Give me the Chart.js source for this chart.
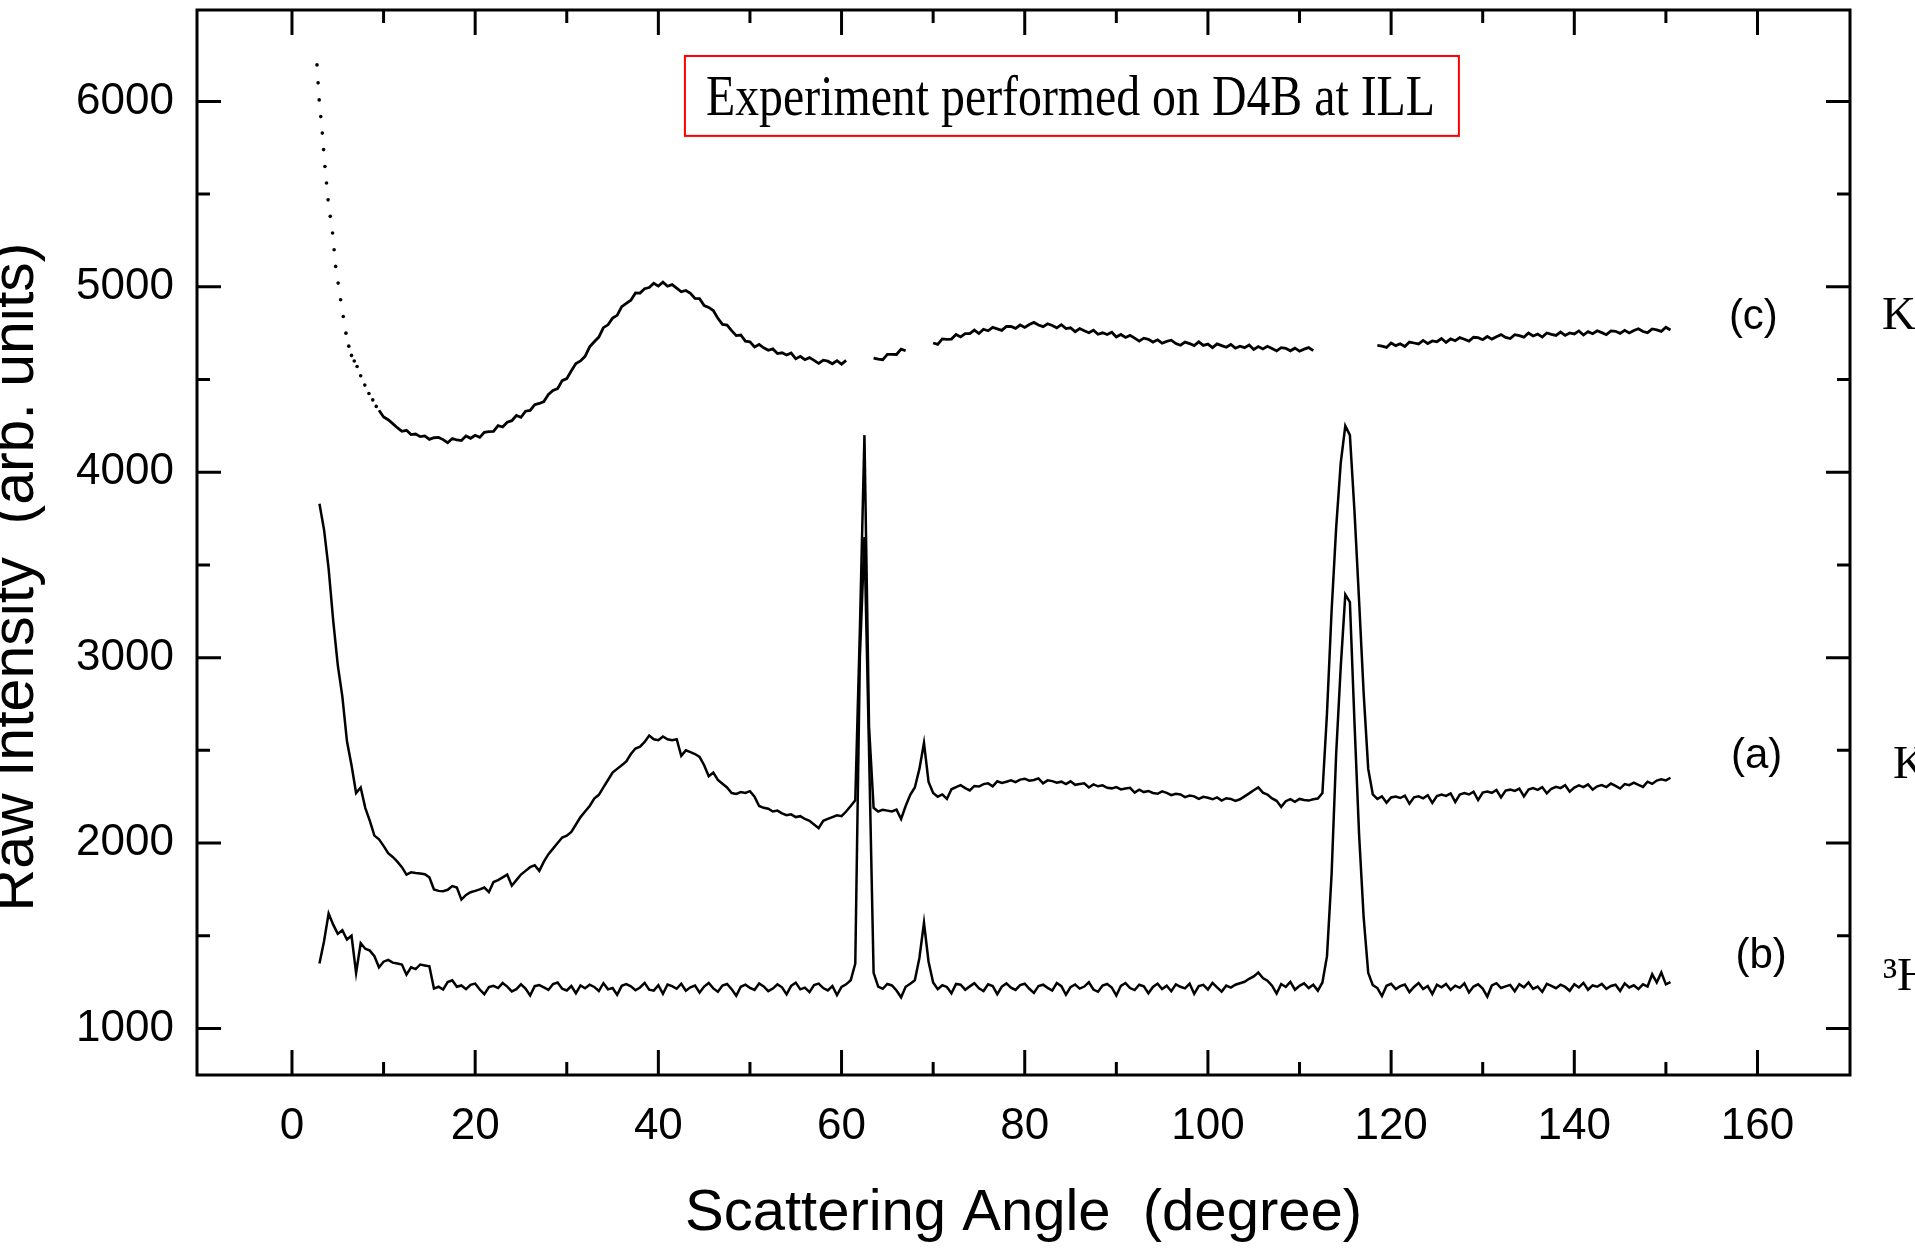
<!DOCTYPE html>
<html>
<head>
<meta charset="utf-8">
<script src="https://cdn.jsdelivr.net/npm/chart.js@4.4.1/dist/chart.umd.min.js"></script>
<style>
  html, body { margin: 0; padding: 0; background: #fff; overflow: hidden; }
  #plot { display: block; }
</style>
</head>
<body>
<canvas id="plot" width="1915" height="1249"></canvas>
<script>
// D4B detector grid: one value every 0.5 degree from the start angle
const ANGLE_STEP = 0.5;
const A_START = 3.0;
const B_START = 3.0;
const C_START = 9.5;

// (a) raw intensity, 3.0 .. 150.5 deg
const intensityA = [
  3830, 3690, 3480, 3200, 2960, 2790, 2550, 2420, 2270, 2300,
  2190, 2120, 2040, 2020, 1985, 1945, 1925, 1900, 1870, 1830,
  1842, 1838, 1836, 1832, 1815, 1750, 1742, 1740, 1748, 1768,
  1760, 1695, 1720, 1735, 1742, 1750, 1760, 1735, 1790, 1800,
  1815, 1830, 1770, 1800, 1830, 1850, 1870, 1880, 1850, 1900,
  1940, 1970, 2000, 2030, 2040, 2060, 2100, 2140, 2170, 2200,
  2240, 2260, 2300, 2340, 2380, 2400, 2420, 2440, 2480, 2510,
  2520, 2545, 2580, 2560, 2555, 2575, 2560, 2555, 2560, 2470,
  2500, 2490, 2480, 2465, 2420, 2360, 2380, 2340, 2320, 2300,
  2270, 2265, 2275, 2270, 2280, 2250, 2200, 2190, 2185, 2170,
  2175, 2160, 2150, 2155, 2140, 2145, 2130, 2120, 2100, 2080,
  2120, 2130, 2140, 2150, 2145, 2170, 2200, 2230, 3150, 4200,
  2630, 2190, 2170, 2180, 2175, 2170, 2180, 2130, 2200, 2260,
  2300, 2400, 2540, 2330, 2270, 2250, 2262, 2238, 2290, 2302,
  2312, 2296, 2284, 2308, 2305, 2318, 2322, 2306, 2333, 2324,
  2331, 2338, 2329, 2342, 2347, 2336, 2340, 2349, 2322, 2338,
  2334, 2326, 2331, 2318, 2333, 2314, 2319, 2322, 2300, 2316,
  2306, 2311, 2298, 2295, 2302, 2289, 2294, 2298, 2272, 2288,
  2275, 2281, 2270, 2266, 2279, 2271, 2258, 2266, 2262, 2248,
  2256, 2252, 2238, 2249, 2244, 2236, 2246, 2229, 2242, 2238,
  2227, 2236, 2252, 2268, 2285, 2300, 2272, 2262, 2241, 2228,
  2195, 2226, 2237, 2222, 2238, 2232, 2229, 2236, 2240, 2270,
  2700, 3250, 3700, 4050, 4250, 4200, 3790, 3310, 2810, 2400,
  2262, 2238, 2252, 2218, 2246, 2251, 2243, 2256, 2212, 2247,
  2252, 2241, 2258, 2216, 2253, 2262, 2254, 2268, 2222, 2262,
  2270, 2262, 2277, 2232, 2272, 2278, 2271, 2286, 2246, 2283,
  2288, 2281, 2293, 2252, 2289, 2296, 2287, 2302, 2268, 2293,
  2303, 2296, 2312, 2277, 2299, 2311, 2302, 2316, 2288, 2306,
  2313, 2302, 2321, 2308, 2294, 2318, 2312, 2326, 2314, 2303,
  2331, 2319, 2337, 2344, 2338, 2352
];

// (b) raw intensity, 3.0 .. 150.5 deg
const intensityB = [
  1350, 1470, 1620, 1560, 1510, 1530, 1480, 1500, 1300, 1460,
  1430, 1420, 1390, 1330, 1360, 1370, 1355, 1350, 1345, 1290,
  1330, 1320, 1345, 1340, 1335, 1215, 1225, 1210, 1250, 1260,
  1225, 1232, 1212, 1235, 1242, 1210, 1185, 1223, 1230, 1218,
  1245, 1226, 1200, 1212, 1238, 1215, 1178, 1228, 1234, 1222,
  1208, 1240, 1248, 1214, 1205, 1229, 1190, 1232, 1217, 1236,
  1224, 1202, 1244, 1211, 1218, 1182, 1230, 1239, 1227, 1206,
  1221, 1246, 1209, 1204, 1233, 1187, 1237, 1228, 1214, 1241,
  1204, 1222, 1231, 1193, 1226, 1245, 1216, 1198, 1232, 1240,
  1212, 1176, 1225, 1236, 1219, 1208, 1243, 1227, 1201, 1215,
  1238, 1222, 1184, 1230, 1247, 1211, 1220, 1196, 1234, 1242,
  1218, 1205, 1229, 1180, 1224, 1238, 1260, 1350, 3000, 3650,
  2500, 1300, 1226, 1214, 1240, 1232, 1205, 1168, 1225, 1241,
  1260, 1380, 1570, 1360, 1248, 1212, 1233, 1224, 1190, 1240,
  1236, 1209, 1227, 1244, 1217, 1202, 1238, 1229, 1185, 1226,
  1243, 1220, 1208, 1234, 1241, 1214, 1192, 1229, 1236, 1219,
  1204, 1245, 1228, 1182, 1223, 1237, 1215, 1226, 1249, 1210,
  1198, 1232, 1240, 1221, 1178, 1230, 1245, 1218, 1207, 1236,
  1227, 1190, 1224, 1242, 1213, 1231, 1201, 1238, 1225, 1216,
  1242, 1187, 1229, 1235, 1210, 1246, 1222, 1199, 1231, 1220,
  1236, 1244, 1252, 1268, 1281, 1302, 1272, 1258, 1231, 1188,
  1240, 1224, 1251, 1209, 1230, 1243, 1218, 1236, 1204, 1248,
  1390, 1830, 2480, 2950, 3340, 3300, 2650, 2050, 1600, 1300,
  1234, 1218, 1175, 1230, 1241, 1212, 1228, 1237, 1196, 1224,
  1245, 1213, 1229, 1186, 1236, 1222, 1240, 1208, 1231, 1219,
  1243, 1194, 1226, 1238, 1215, 1172, 1232, 1244, 1218, 1227,
  1235, 1201, 1239, 1222, 1248, 1213, 1226, 1197, 1241, 1230,
  1217, 1236, 1224, 1203, 1238, 1221, 1246, 1209, 1232, 1225,
  1240, 1214, 1229, 1236, 1202, 1243, 1221, 1233, 1212, 1238,
  1226, 1292, 1248, 1302, 1238, 1250
];

// (c) steep low-angle part, drawn as separate dots
const cHeadAngles = [2.73, 2.85, 2.97, 3.14, 3.31, 3.45, 3.60, 3.77, 3.94, 4.18,
  4.43, 4.60, 4.77, 5.04, 5.31, 5.60, 5.89, 6.20, 6.50, 6.80,
  7.11, 7.50, 7.95, 8.40, 8.82, 9.20];
const cHeadValues = [6197, 6100, 6008, 5918, 5829, 5740, 5649, 5560, 5469, 5380,
  5290, 5200, 5110, 5020, 4930, 4840, 4750, 4680, 4630, 4600,
  4570, 4520, 4470, 4425, 4390, 4355];

// (c) raw intensity, 9.5 .. 150.5 deg (null = angles left out of the scan)
const intensityC = [
  4334, 4298, 4283, 4262, 4240, 4221, 4226, 4203, 4206, 4192,
  4196, 4177, 4186, 4188, 4176, 4159, 4182, 4174, 4171, 4196,
  4183, 4199, 4188, 4215, 4219, 4220, 4251, 4244, 4270, 4278,
  4306, 4296, 4329, 4333, 4364, 4371, 4381, 4420, 4441, 4451,
  4494, 4505, 4547, 4586, 4600, 4625, 4676, 4704, 4729, 4780,
  4795, 4831, 4846, 4893, 4911, 4928, 4967, 4966, 4990, 4996,
  5019, 5004, 5025, 5003, 5012, 4993, 4973, 4980, 4965, 4937,
  4936, 4899, 4889, 4872, 4830, 4797, 4794, 4764, 4737, 4740,
  4707, 4703, 4676, 4689, 4671, 4658, 4665, 4640, 4644, 4632,
  4643, 4612, 4625, 4607, 4618, 4603, 4587, 4604, 4599, 4585,
  4602, 4583, 4603, null, null, null, null, null, 4616, 4610,
  4607, 4636, 4636, 4635, 4664, 4655, null, null, null, null,
  null, 4697, 4690, 4719, 4717, 4718, 4743, 4730, 4748, 4748,
  4767, 4748, 4771, 4763, 4781, 4773, 4765, 4786, 4786, 4776,
  4794, 4781, 4797, 4808, 4794, 4785, 4801, 4791, 4779, 4796,
  4775, 4779, 4758, 4775, 4763, 4752, 4766, 4744, 4752, 4743,
  4755, 4729, 4743, 4727, 4738, 4723, 4707, 4723, 4717, 4702,
  4714, 4696, 4706, 4712, 4694, 4685, 4702, 4694, 4683, 4703,
  4684, 4691, 4672, 4692, 4683, 4674, 4689, 4669, 4680, 4672,
  4686, 4662, 4678, 4665, 4679, 4667, 4654, 4672, 4668, 4655,
  4669, 4653, 4664, 4672, 4656, null, null, null, null, null,
  null, null, null, null, null, null, null, null, 4684, 4680,
  4673, 4697, 4683, 4693, 4678, 4702, 4697, 4692, 4711, 4694,
  4708, 4704, 4721, 4700, 4719, 4709, 4726, 4717, 4707, 4728,
  4726, 4715, 4732, 4718, 4731, 4742, 4727, 4721, 4742, 4737,
  4729, 4751, 4735, 4745, 4729, 4751, 4744, 4738, 4756, 4738,
  4751, 4746, 4762, 4740, 4758, 4747, 4763, 4753, 4742, 4762,
  4760, 4749, 4765, 4751, 4764, 4774, 4759, 4753, 4773, 4768,
  4760, 4782, 4767
];

// axes
const X_MIN = -10.37, X_MAX = 170.1;
const Y_MIN = 749, Y_MAX = 6493;
const X_MAJOR = [0, 20, 40, 60, 80, 100, 120, 140, 160];
const X_MINOR = [10, 30, 50, 70, 90, 110, 130, 150];
const Y_MAJOR = [1000, 2000, 3000, 4000, 5000, 6000];
const Y_MINOR = [1500, 2500, 3500, 4500, 5500];

// texts
const X_TITLE = 'Scattering Angle  (degree)';
const Y_TITLE = 'Raw Intensity  (arb. units)';
const NOTE_TEXT = 'Experiment performed on D4B at ILL';
const CURVE_TAGS = ['(c)', '(a)', '(b)'];
const SAMPLE_TAGS = ['K', 'K', '\u00B3H'];

const SANS = "'Liberation Sans', Arial, Helvetica, sans-serif";
const SERIF = "'Liberation Serif', 'Times New Roman', Times, serif";

function toPoints(start, values) {
  return values.map((v, i) => ({ x: start + i * ANGLE_STEP, y: v }));
}

// frame, inward ticks and the text notes, all placed through the scales
const framePlugin = {
  id: 'framePlugin',
  afterDatasetsDraw(chart) {
    const { ctx, chartArea: a, scales: { x, y } } = chart;
    ctx.save();
    ctx.strokeStyle = '#000';
    ctx.lineWidth = 3;
    ctx.beginPath();
    const tickX = (v, len) => {
      const p = x.getPixelForValue(v);
      ctx.moveTo(p, a.bottom); ctx.lineTo(p, a.bottom - len);
      ctx.moveTo(p, a.top); ctx.lineTo(p, a.top + len);
    };
    const tickY = (v, len) => {
      const p = y.getPixelForValue(v);
      ctx.moveTo(a.left, p); ctx.lineTo(a.left + len, p);
      ctx.moveTo(a.right, p); ctx.lineTo(a.right - len, p);
    };
    X_MAJOR.forEach(v => tickX(v, 25));
    X_MINOR.forEach(v => tickX(v, 13));
    Y_MAJOR.forEach(v => tickY(v, 24));
    Y_MINOR.forEach(v => tickY(v, 13));
    ctx.stroke();
    ctx.strokeRect(a.left, a.top, a.right - a.left, a.bottom - a.top);

    // y axis title, rotated, partly cut by the page edge
    ctx.fillStyle = '#000';
    ctx.save();
    ctx.translate(17, y.getPixelForValue(3435));
    ctx.rotate(-Math.PI / 2);
    ctx.font = '59px ' + SANS;
    ctx.textAlign = 'center';
    ctx.textBaseline = 'middle';
    ctx.fillText(Y_TITLE, 0, 0);
    ctx.restore();

    // red note box
    const bx1 = x.getPixelForValue(42.9), bx2 = x.getPixelForValue(127.4);
    const by1 = y.getPixelForValue(6245), by2 = y.getPixelForValue(5814);
    ctx.strokeStyle = '#f00';
    ctx.lineWidth = 2;
    ctx.strokeRect(bx1, by1, bx2 - bx1, by2 - by1);
    ctx.font = '57px ' + SERIF;
    ctx.textAlign = 'left';
    ctx.textBaseline = 'alphabetic';
    ctx.fillText(NOTE_TEXT, x.getPixelForValue(45.2), y.getPixelForValue(5924), 729);

    // curve tags
    const tagPos = [[159.55, 4835], [159.9, 2467], [160.4, 1388]];
    ctx.font = '42px ' + SANS;
    ctx.textAlign = 'center';
    ctx.textBaseline = 'middle';
    CURVE_TAGS.forEach((t, i) => {
      ctx.fillText(t, x.getPixelForValue(tagPos[i][0]), y.getPixelForValue(tagPos[i][1]));
    });

    // sample names beyond the right frame (cut by the page edge)
    const samplePos = [[173.6, 4773], [174.8, 2351], [173.7, 1208]];
    ctx.font = '47px ' + SERIF;
    ctx.textAlign = 'left';
    ctx.textBaseline = 'alphabetic';
    SAMPLE_TAGS.forEach((t, i) => {
      ctx.fillText(t, x.getPixelForValue(samplePos[i][0]), y.getPixelForValue(samplePos[i][1]));
    });
    ctx.restore();
  }
};

const lineStyle = {
  borderColor: '#000',
  borderWidth: 2.5,
  pointRadius: 0,
  tension: 0,
  fill: false,
  spanGaps: false
};

new Chart(document.getElementById('plot'), {
  type: 'line',
  data: {
    datasets: [
      { label: '(c)', data: toPoints(C_START, intensityC), ...lineStyle, borderWidth: 2.8 },
      {
        label: '(c) low angle',
        data: cHeadAngles.map((a, i) => ({ x: a, y: cHeadValues[i] })),
        showLine: false,
        pointRadius: 1.8,
        pointBackgroundColor: '#000',
        pointBorderWidth: 0
      },
      { label: '(a)', data: toPoints(A_START, intensityA), ...lineStyle },
      { label: '(b)', data: toPoints(B_START, intensityB), ...lineStyle }
    ]
  },
  options: {
    responsive: false,
    devicePixelRatio: 1,
    animation: false,
    layout: { padding: { left: 0, right: 65, top: 10, bottom: 0 } },
    plugins: { legend: { display: false }, tooltip: { enabled: false } },
    scales: {
      x: {
        type: 'linear',
        min: X_MIN,
        max: X_MAX,
        grid: { display: false, drawTicks: false },
        border: { display: false },
        afterBuildTicks: s => { s.ticks = X_MAJOR.map(v => ({ value: v })); },
        afterFit: s => { s.height = 174; s.paddingLeft = 0; s.paddingRight = 0; },
        ticks: {
          color: '#000',
          font: { family: SANS, size: 44 },
          padding: 25,
          maxRotation: 0,
          autoSkip: false,
          callback: v => String(v)
        },
        title: {
          display: true,
          text: X_TITLE,
          color: '#000',
          font: { family: SANS, size: 58 },
          padding: { top: 0, bottom: 0 }
        }
      },
      y: {
        type: 'linear',
        min: Y_MIN,
        max: Y_MAX,
        grid: { display: false, drawTicks: false },
        border: { display: false },
        afterBuildTicks: s => { s.ticks = Y_MAJOR.map(v => ({ value: v })); },
        afterFit: s => { s.width = 197; s.paddingTop = 0; s.paddingBottom = 0; },
        ticks: {
          color: '#000',
          font: { family: SANS, size: 44 },
          padding: 23,
          callback: v => String(v)
        },
        title: { display: false }
      }
    }
  },
  plugins: [framePlugin]
});
</script>
</body>
</html>
